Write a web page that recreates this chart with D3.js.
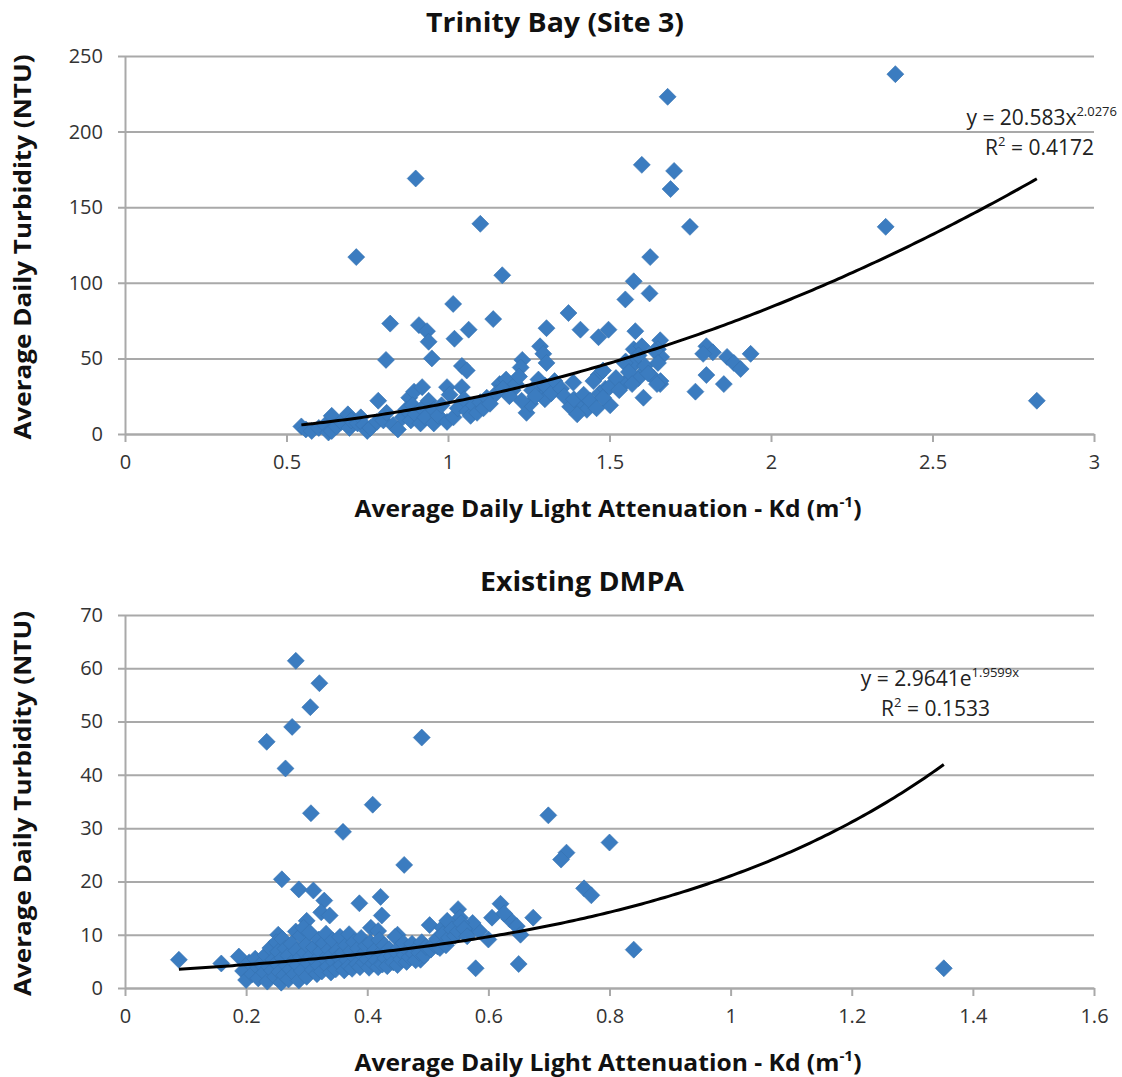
<!DOCTYPE html>
<html><head><meta charset="utf-8">
<script src="https://cdn.jsdelivr.net/npm/d3@7"></script>
<style>body{margin:0;background:#fff} svg{display:block}</style>
</head><body>
<svg id="c" width="1122" height="1077"></svg>
<script>
// ---------- DATA ----------
const titles = ["Trinity Bay (Site 3)", "Existing DMPA"];
const yAxisTitle = "Average Daily Turbidity (NTU)";
const xAxisTitle = "Average Daily Light Attenuation - Kd (m";

const trinityXTicks = [0, 0.5, 1, 1.5, 2, 2.5, 3];
const trinityYTicks = [0, 50, 100, 150, 200, 250];
const dmpaXTicks = [0, 0.2, 0.4, 0.6, 0.8, 1, 1.2, 1.4, 1.6];
const dmpaYTicks = [0, 10, 20, 30, 40, 50, 60, 70];

// power fit y = a x^b  (Trinity Bay), exponential fit y = a e^(b x) (DMPA)
const trinityFit = [20.583, 2.0276];
const trinityR2 = "0.4172";
const dmpaFit = [2.9641, 1.9599];
const dmpaR2 = "0.1533";

// [Kd, NTU]
const trinityPoints = [
 [0.716,117],[0.90,169],[1.10,139],[1.168,105],[1.016,86],[0.821,73],[0.91,72],[0.935,68],[0.94,61],[1.02,63],
 [1.064,69],[1.14,76],[0.808,49],[0.95,50],[1.043,45],[1.058,42],[0.784,22],[0.88,24],[0.895,28],[0.92,31],
 [0.997,31],[1.043,31],[1.16,33],[1.18,36],[1.20,29],[1.23,49],[1.225,44],[1.285,58],[1.295,53],[1.305,47],
 [1.305,70],[1.285,28],[1.30,23],[1.243,14],[1.254,20],[1.228,22],[1.34,31],[1.373,80],[1.41,69],[1.388,34],
 [1.378,18],[1.41,20],[1.43,16],[1.466,64],[1.497,69],[1.466,39],[1.47,27],[1.487,30],[1.502,19],[1.549,89],
 [1.575,101],[1.626,117],[1.624,93],[1.60,178],[1.70,174],[1.689,162],[1.68,223],[1.749,137],[2.355,137],[2.385,238],
 [2.823,22],[1.58,68],[1.657,62],[1.65,56],[1.575,56],[1.60,58],[1.55,48],[1.58,47],[1.80,58],[1.82,54],
 [1.79,53],[1.864,51],[1.885,47],[1.906,43],[1.937,53],[1.80,39],[1.854,33],[1.766,28],[1.66,51],[1.637,37],
 [1.657,33],[1.605,24],[1.549,34],[1.48,42],[1.547,47],[1.59,37],[1.613,42],[1.658,35],[1.647,33],
 [0.546,5],[0.56,3],[0.578,2],[0.60,4],[0.62,6],[0.63,1],[0.64,12],[0.64,2],[0.655,5],[0.67,8],
 [0.69,13],[0.695,4],[0.70,9],[0.72,7],[0.73,11],[0.74,6],[0.75,2],[0.76,4],[0.78,8],[0.80,9],
 [0.81,14],[0.83,6],[0.845,3],[0.86,11],[0.87,16],[0.885,9],[0.89,19],[0.90,13],[0.915,7],[0.92,17],
 [0.93,11],[0.94,22],[0.956,7],[0.956,16],[0.97,12],[0.98,19],[0.997,8],[1.005,26],[1.017,11],[1.03,17],
 [1.05,23],[1.06,15],[1.07,12],[1.08,19],[1.09,14],[1.10,21],[1.11,17],[1.12,24],[1.13,20],[1.15,27],
 [1.17,30],[1.19,25],[1.21,33],[1.22,38],[1.26,29],[1.27,25],[1.28,36],[1.30,32],[1.32,27],[1.33,35],
 [1.35,30],[1.36,25],[1.39,23],[1.40,13],[1.42,26],[1.44,22],[1.45,35],[1.46,17],[1.48,24],[1.50,31],
 [1.52,37],[1.53,29],[1.56,41],[1.57,33],[1.59,52],[1.61,45],[1.62,40],[1.64,55],[1.65,47]
];

const dmpaPoints = [
 [0.089,5.3],[0.159,4.6],[0.188,5.9],[0.282,61.4],[0.321,57.2],[0.306,52.7],[0.276,49],[0.234,46.2],[0.49,47],[0.265,41.2],
 [0.409,34.4],[0.307,32.8],[0.36,29.3],[0.461,23.1],[0.259,20.4],[0.287,18.5],[0.311,18.3],[0.329,16.4],[0.387,15.9],[0.422,17.1],
 [0.324,14.2],[0.338,13.6],[0.424,13.6],[0.406,11.3],[0.418,10.7],[0.30,12.6],[0.253,10],[0.45,10],[0.503,11.8],[0.524,11.3],
 [0.55,14.8],[0.553,13.2],[0.532,12.6],[0.576,11.6],[0.585,10.7],[0.606,13.2],[0.62,15.8],[0.635,12.9],[0.647,11.6],[0.653,10],
 [0.60,9.1],[0.579,3.7],[0.65,4.5],[0.674,13.2],[0.488,5.3],[0.538,10],[0.518,8.8],[0.80,27.3],[0.729,25.4],[0.72,24.1],
 [0.758,18.7],[0.77,17.4],[0.84,7.2],[1.352,3.7],[0.699,32.4],[0.626,14],[0.574,12.2],[0.50,6.9],[0.516,7.8],[0.53,8.75],
 [0.282,10.6],
 [0.195,3.2],[0.20,1.5],[0.205,4.8],[0.21,2.6],[0.215,5.5],[0.22,3.8],[0.22,1.8],
 [0.225,4.5],[0.23,2.9],[0.232,6.2],[0.235,1.2],[0.238,4.0],[0.24,7.5],[0.243,3.3],[0.245,5.3],[0.248,2.1],[0.25,8.6],[0.25,4.7],
 [0.253,6.8],[0.255,3.0],[0.258,1.0],[0.26,9.2],[0.26,5.6],[0.263,2.4],[0.265,7.4],[0.267,4.2],[0.27,1.6],[0.27,6.1],[0.273,3.5],[0.275,8.3],[0.278,5.0],[0.28,2.6],
 [0.283,7.0],[0.285,4.3],[0.287,1.4],[0.29,9.8],[0.29,5.8],[0.292,3.2],[0.295,11.3],[0.297,6.6],[0.30,2.1],[0.30,8.1],[0.303,4.6],[0.305,10.4],[0.307,6.0],[0.31,3.4],
 [0.312,7.6],[0.315,5.1],[0.317,2.6],[0.32,9.1],[0.32,4.2],[0.323,6.8],[0.325,3.1],[0.328,8.4],[0.33,5.5],[0.332,10.2],[0.335,4.0],[0.337,7.2],[0.34,2.9],[0.34,6.0],
 [0.343,8.9],[0.345,4.9],[0.348,3.5],[0.35,7.0],[0.352,5.8],[0.355,9.6],[0.357,4.3],[0.36,6.6],[0.362,3.3],[0.365,8.0],[0.367,5.2],[0.37,10.1],[0.37,4.1],
 [0.373,6.9],[0.375,3.6],[0.378,8.6],[0.38,5.7],[0.383,4.5],[0.385,7.4],[0.388,3.9],[0.39,9.4],[0.392,6.2],[0.395,4.8],[0.398,7.9],[0.40,5.4],
 [0.403,3.8],[0.405,8.5],[0.408,6.3],[0.41,4.6],[0.413,7.1],[0.415,5.2],[0.418,3.9],[0.42,9.0],[0.423,6.7],[0.425,4.4],[0.428,8.0],[0.43,5.6],[0.433,4.1],[0.436,7.3],[0.44,6.0],[0.443,4.8],[0.446,9.6],[0.45,6.5],[0.45,4.3],
 [0.453,7.6],[0.456,5.4],[0.46,8.4],[0.462,6.2],[0.465,4.9],[0.468,7.0],[0.47,5.8],[0.474,8.3],[0.477,6.4],[0.48,5.2],[0.483,7.5],[0.486,6.6],[0.49,8.6],[0.494,6.1],[0.497,7.7],
 [0.505,7.2],[0.51,8.2],[0.515,9.2],[0.52,7.5],[0.525,10.1],[0.53,8.0],[0.535,9.4],[0.54,11.0],[0.545,9.8],[0.55,10.6],[0.555,12.2],[0.56,11.1],[0.565,9.7]
];

// ---------- DRAW ----------
const svg = d3.select("#c");
const FONT = "'Open Sans', Lato, sans-serif";
const GRID = "#a9a9a9";
const BLUE = "#3b7cc0";

const diamond = { draw(ctx, size) { const r = Math.sqrt(size / 2);
  ctx.moveTo(0, -r); ctx.lineTo(r, 0); ctx.lineTo(0, r); ctx.lineTo(-r, 0); ctx.closePath(); } };

function stretch(sel, w) {
  sel.attr("textLength", w).attr("lengthAdjust", "spacingAndGlyphs");
}

function chart(o) {
  const x = d3.scaleLinear().domain(o.xDomain).range([125, 1094]);
  const y = d3.scaleLinear().domain(o.yDomain).range([o.bottom, o.top]);
  const g = svg.append("g");

  // gridlines
  g.append("g").attr("transform", "translate(125,0)")
    .call(d3.axisLeft(y).tickValues(o.yTicks).tickSize(-(1094 - 125)).tickFormat(""))
    .call(s => { s.select(".domain").remove();
      s.selectAll("line").attr("stroke", GRID).attr("stroke-width", 2).attr("x1", -7); });

  // x axis
  g.append("g").attr("transform", `translate(0,${o.bottom})`)
    .call(d3.axisBottom(x).tickValues(o.xTicks).tickSize(8).tickSizeOuter(0).tickPadding(13).tickFormat(d3.format("")))
    .call(s => { s.select(".domain").attr("stroke", GRID).attr("stroke-width", 2);
      s.selectAll("line").attr("stroke", GRID).attr("stroke-width", 2);
      s.selectAll("text").attr("font-family", FONT).attr("font-size", 20).attr("fill", "#333"); });

  // y axis line + labels
  g.append("g").attr("transform", "translate(125,0)")
    .call(d3.axisLeft(y).tickValues(o.yTicks).tickSize(0).tickPadding(22))
    .call(s => { s.select(".domain").attr("stroke", GRID).attr("stroke-width", 2);
      s.selectAll("text").attr("font-family", FONT).attr("font-size", 20).attr("fill", "#333"); });

  // points
  g.append("g").selectAll("path").data(o.points).join("path")
    .attr("transform", d => `translate(${x(d[0])},${y(d[1])})`)
    .attr("d", d3.symbol().type(diamond).size(2 * 8.5 * 8.5))
    .attr("fill", BLUE).attr("stroke", "#3672b0").attr("stroke-width", 0.6);

  // trend line
  const ext = d3.extent(o.points, d => d[0]);
  const xs = d3.range(ext[0], ext[1], (ext[1] - ext[0]) / 200).concat([ext[1]]);
  g.append("path").datum(xs)
    .attr("d", d3.line().x(d => x(d)).y(d => y(o.fit(d))))
    .attr("fill", "none").attr("stroke", "#000").attr("stroke-width", 3);

  // title
  const t = g.append("text").attr("x", o.titleX).attr("y", o.top - 24).attr("text-anchor", "middle")
    .attr("font-family", FONT).attr("font-weight", "bold").attr("font-size", 26).attr("fill", "#111")
    .text(o.title);
  stretch(t, o.titleW);

  // y title
  const yt = g.append("text").attr("transform", `translate(31,${(o.top + o.bottom) / 2 + 2}) rotate(-90)`)
    .attr("text-anchor", "middle").attr("font-family", FONT).attr("font-weight", "bold")
    .attr("font-size", 24).attr("fill", "#111").text(yAxisTitle);
  stretch(yt, 385);

  // x title
  const xt = g.append("text").attr("x", 608).attr("y", o.bottom + 83).attr("text-anchor", "middle")
    .attr("font-family", FONT).attr("font-weight", "bold").attr("font-size", 24).attr("fill", "#111");
  xt.append("tspan").text(xAxisTitle);
  xt.append("tspan").attr("font-size", 15).attr("dy", -10).text("-1");
  xt.append("tspan").attr("dy", 10).text(")");
  stretch(xt, 507);

  // equation
  const eq = g.append("text").attr("x", o.eqX).attr("y", o.eqY).attr("text-anchor", "end")
    .attr("font-family", FONT).attr("font-size", 21).attr("fill", "#222");
  eq.append("tspan").text(o.eqMain);
  eq.append("tspan").attr("font-size", 13).attr("dy", -9).text(o.eqSup);
  const r2 = g.append("text").attr("x", o.r2X).attr("y", o.eqY + 30).attr("text-anchor", "end")
    .attr("font-family", FONT).attr("font-size", 21).attr("fill", "#222");
  r2.append("tspan").text("R");
  r2.append("tspan").attr("font-size", 13).attr("dy", -9).text("2");
  r2.append("tspan").attr("dy", 9).text(" = " + o.r2);
}

chart({
  title: titles[0], titleX: 555, titleW: 258, xDomain: [0, 3], yDomain: [0, 250], top: 56, bottom: 434,
  xTicks: trinityXTicks, yTicks: trinityYTicks, points: trinityPoints,
  fit: v => trinityFit[0] * Math.pow(v, trinityFit[1]),
  eqMain: `y = ${trinityFit[0]}x`, eqSup: `${trinityFit[1]}`, r2: trinityR2,
  eqX: 1117, eqY: 125, r2X: 1094
});
chart({
  title: titles[1], titleX: 582, titleW: 204, xDomain: [0, 1.6], yDomain: [0, 70], top: 615, bottom: 988,
  xTicks: dmpaXTicks, yTicks: dmpaYTicks, points: dmpaPoints,
  fit: v => dmpaFit[0] * Math.exp(dmpaFit[1] * v),
  eqMain: `y = ${dmpaFit[0]}e`, eqSup: `${dmpaFit[1]}x`, r2: dmpaR2,
  eqX: 1019, eqY: 686, r2X: 990
});
</script>
</body></html>
